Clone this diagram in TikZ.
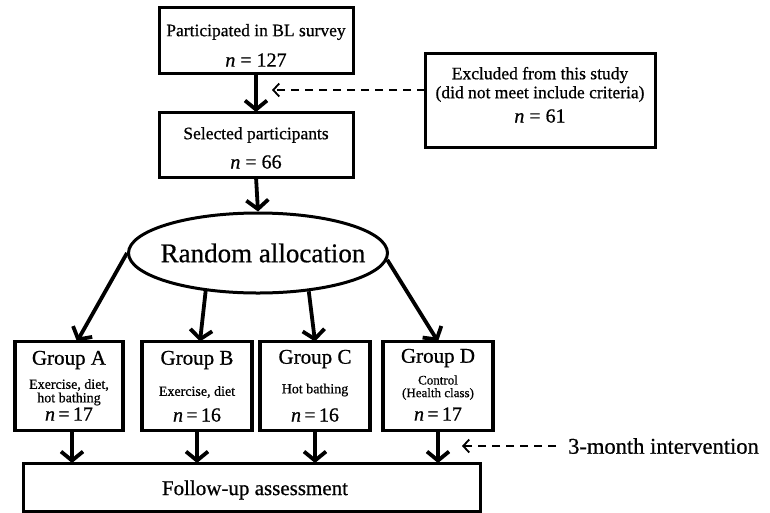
\documentclass[tikz,border=0pt]{standalone}
\usepackage{fontspec}
\setmainfont{Liberation Serif}[FakeBold=0.7]
\usetikzlibrary{arrows.meta,shapes.geometric}
\begin{document}
\begin{tikzpicture}[x=1pt,y=-1pt,
  box/.style={draw,line width=3pt,inner sep=0pt,outer sep=0pt},
  gbox/.style={draw,line width=3.5pt,inner sep=0pt,outer sep=0pt,minimum height=89pt},
  thickarr/.style={line width=3.8pt,-{Straight Barb[length=9pt,width=22pt,line width=3.8pt]}},
  dasharr/.style={line width=1.8pt,dash pattern=on 8pt off 6pt,-{Straight Barb[length=6pt,width=13pt,line width=1.8pt]}},
  lbl/.style={inner sep=0pt,anchor=center},
  fmid/.style={lbl,font=\fontsize{17.5}{20}\selectfont},
  fn/.style={lbl,font=\fontsize{20}{22}\selectfont},
  ftitle/.style={lbl,font=\fontsize{21}{24}\selectfont},
  fsub/.style={lbl,font=\fontsize{14}{16}\selectfont},
  fsmall/.style={lbl,font=\fontsize{13}{15}\selectfont}]
\useasboundingbox (0,0) rectangle (770,512);

% top boxes
\node[box,minimum width=194pt,minimum height=66pt] (top) at (256,40) {};
\node[fmid] (t1) at (256,32) {Participated in BL survey};
\node[fn] (t2) at (256,60) {\textit{n} = 127};

\node[box,minimum width=194pt,minimum height=65pt] (sel) at (256,144.5) {};
\node[fmid] (s1) at (256,135) {Selected participants};
\node[fn] (s2) at (256,162) {\textit{n} = 66};

\node[box,minimum width=230pt,minimum height=94pt] (excl) at (540,100) {};
\node[fmid] (e1) at (540,75) {Excluded from this study};
\node[fmid] (e2) at (540,94) {(did not meet include criteria)};
\node[fn] (e3) at (540,116) {\textit{n} = 61};

% ellipse
\node[draw,ellipse,line width=3pt,minimum width=259pt,minimum height=80pt,inner sep=0pt] (ell) at (258,253) {};
\node[lbl,font=\fontsize{27}{30}\selectfont] (et) at (263,253) {Random allocation};

% groups
\node[gbox,minimum width=108pt] (gA) at (69,386) {};
\node[ftitle] (gA1) at (69,360) {Group A};
\node[fsub] (gA2) at (69,385) {Exercise, diet,};
\node[fsub] (gA3) at (69,399) {hot bathing};
\node[fn] (gA4) at (69,414) {\textit{n}\,=\,17};

\node[gbox,minimum width=110pt] (gB) at (197,386) {};
\node[ftitle] (gB1) at (197,360) {Group B};
\node[fsub] (gB2) at (197,392) {Exercise, diet};
\node[fn] (gB4) at (197,415) {\textit{n}\,=\,16};

\node[gbox,minimum width=110pt] (gC) at (315,386) {};
\node[ftitle] (gC1) at (315,359) {Group C};
\node[fsub] (gC2) at (315,390) {Hot bathing};
\node[fn] (gC4) at (315,415) {\textit{n}\,=\,16};

\node[gbox,minimum width=110pt] (gD) at (438,386) {};
\node[ftitle] (gD1) at (438,358) {Group D};
\node[fsmall] (gD2) at (438,380) {Control};
\node[fsmall] (gD3) at (438,394) {(Health class)};
\node[fn] (gD4) at (438,414) {\textit{n}\,=\,17};

% follow-up
\node[box,minimum width=457pt,minimum height=48pt] (fu) at (251.5,487) {};
\node[ftitle] (fut) at (255,490) {Follow-up assessment};

% intervention label
\node[lbl,font=\fontsize{22.5}{25}\selectfont,anchor=west] (intv) at (568,446) {3-month intervention};

% connectors
\draw[thickarr] (top.south) -- (sel.north);
\draw[thickarr] (sel.south) -- (ell.north);
\coordinate (dtip) at (272,90);
\draw[dasharr] (excl.west |- dtip) -- (dtip);

\draw[thickarr] (ell.west) -- ([xshift=8pt]gA.north);
\draw[thickarr] (ell.216) -- ([xshift=3pt]gB.north);
\draw[thickarr] (ell.323) -- (gC.north);
\draw[thickarr] (ell.357) -- (gD.north);

\draw[thickarr] ([xshift=3pt]gA.south) -- ([xshift=3pt]gA.south |- fu.north);
\draw[thickarr] (gB.south) -- (gB.south |- fu.north);
\draw[thickarr] (gC.south) -- (gC.south |- fu.north);
\draw[thickarr] (gD.south) -- (gD.south |- fu.north);

\coordinate (itip) at (462,446);
\draw[dasharr] ([xshift=-12pt]intv.west) -- (itip);
\end{tikzpicture}
\end{document}
